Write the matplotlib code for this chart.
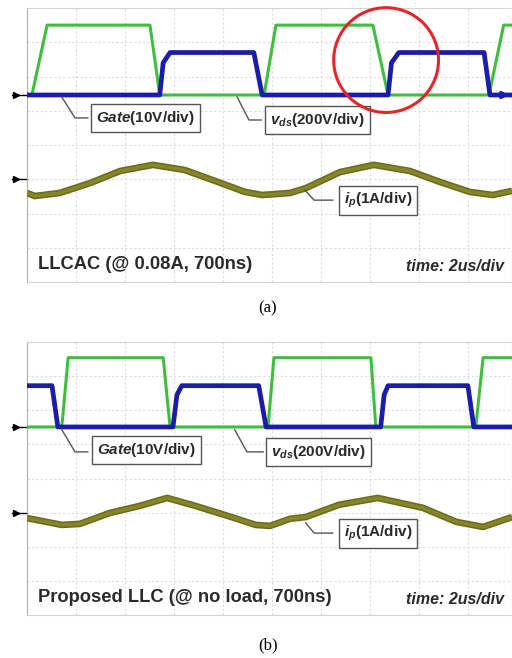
import numpy as np
import matplotlib
matplotlib.use("Agg")
import matplotlib.pyplot as plt
from matplotlib.patches import Ellipse

plt.rcParams['font.family'] = ['Liberation Sans', 'DejaVu Sans']
plt.rcParams['mathtext.fontset'] = 'custom'
plt.rcParams['mathtext.it'] = 'Liberation Sans:italic:bold'
plt.rcParams['mathtext.rm'] = 'Liberation Sans:bold'
plt.rcParams['mathtext.bf'] = 'Liberation Sans:bold'

# scope traces, x in divisions (2us/div), y in divisions from bottom of screen
# (a) LLCAC
gate_a_t = [0.0, 0.10, 0.41, 2.51, 2.71, 4.84, 5.08, 7.06, 7.37, 9.43, 9.73, 9.9]
gate_a_v = [5.46, 5.46, 7.50, 7.50, 5.46, 5.46, 7.50, 7.50, 5.46, 5.46, 7.50, 7.50]
vds_a_t = [0.0, 2.71, 2.78, 2.92, 4.63, 4.80, 7.37, 7.44, 7.59, 9.33, 9.45, 9.9]
vds_a_v = [5.46, 5.46, 6.40, 6.70, 6.70, 5.46, 5.46, 6.40, 6.70, 6.70, 5.46, 5.46]
ip_a_t = [0.0, 0.16, 0.67, 1.29, 1.90, 2.57, 3.22, 3.84, 4.45, 4.80, 5.37, 5.69,
          6.39, 7.08, 7.82, 8.43, 9.04, 9.51, 9.90]
ip_a_v = [2.60, 2.51, 2.60, 2.89, 3.24, 3.42, 3.27, 2.95, 2.63, 2.54, 2.60, 2.74,
          3.21, 3.42, 3.24, 2.92, 2.63, 2.54, 2.66]

# (b) proposed LLC
gate_b_t = [0.0, 0.71, 0.84, 2.78, 2.92, 4.92, 5.04, 7.02, 7.12, 9.16, 9.31, 9.9]
gate_b_v = [5.51, 5.51, 7.54, 7.54, 5.51, 5.51, 7.54, 7.54, 5.51, 5.51, 7.54, 7.54]
vds_b_t = [0.0, 0.51, 0.63, 2.98, 3.06, 3.16, 4.73, 4.88, 7.22, 7.29, 7.37, 9.00, 9.12, 9.9]
vds_b_v = [6.72, 6.72, 5.51, 5.51, 6.45, 6.72, 6.72, 5.51, 5.51, 6.45, 6.72, 6.72, 5.51, 5.51]
ip_b_t = [0.0, 0.71, 1.08, 1.69, 2.31, 2.86, 3.43, 4.04, 4.67, 4.96, 5.37, 5.69,
          6.37, 7.16, 8.08, 8.76, 9.31, 9.90]
ip_b_v = [2.84, 2.64, 2.67, 2.99, 3.20, 3.43, 3.20, 2.93, 2.64, 2.61, 2.82, 2.87,
          3.23, 3.43, 3.14, 2.73, 2.58, 2.87]

captions = ["LLCAC (@ 0.08A, 700ns)", "Proposed LLC (@ no load, 700ns)"]

W, H = 512, 658
fig = plt.figure(figsize=(W / 100, H / 100), dpi=100)
fig.patch.set_facecolor('white')

green = '#3dbf3d'
blue = '#1c1caa'
olive = '#85852a'
grey = '#555555'
txt = '#2a2a2a'


def screen(top, bottom, gate_t, gate_v, vds_t, vds_v, ip_t, ip_v, ground, caption,
           leaders):
    ax = fig.add_axes([27 / W, 1 - bottom / H, 485 / W, (bottom - top) / H])
    ax.set_xlim(0, 9.9)
    ax.set_ylim(0, 8)
    for x in range(1, 10):
        ax.axvline(x, color='#dcdcdc', lw=0.8, ls=(0, (2, 2)), zorder=0)
    for y in range(1, 8):
        ax.axhline(y, color='#dcdcdc', lw=0.8, ls=(0, (2, 2)), zorder=0)
    for s in ax.spines.values():
        s.set_color('#d4d4d4')
        s.set_linewidth(0.8)
    ax.spines['left'].set_color('#b0b0b0')
    ax.set_xticks([])
    ax.set_yticks([])

    ax.plot(gate_t, gate_v, color=green, lw=2.2, zorder=3, solid_joinstyle='round')
    ax.plot(vds_t, vds_v, color=blue, lw=3.4, zorder=4, solid_joinstyle='round')
    ax.plot(ip_t, ip_v, color='#6b6b1c', lw=4.8, zorder=3, solid_capstyle='butt')
    ax.plot(ip_t, ip_v, color=olive, lw=2.6, zorder=3)

    # ground markers at left edge
    for gy in (ground, 3.0):
        ax.plot([-0.22], [gy], marker='>', color='black', ms=5, clip_on=False)
        ax.plot([-0.3, 0], [gy, gy], color='black', lw=1, clip_on=False)

    labels = [r"$\mathit{Gate}$(10V/div)", r"$\mathit{v}_{\mathit{ds}}$(200V/div)",
              r"$\mathit{i}_{\mathit{p}}$(1A/div)"]
    for lab, (pts, cx, cy) in zip(labels, leaders):
        xs, ys = zip(*pts)
        ax.plot(xs, ys, color=grey, lw=1.0, zorder=5)
        ax.text(cx, cy, lab, ha='center', va='center', fontsize=11, color=txt,
                fontweight='bold', zorder=6,
                bbox=dict(boxstyle='square,pad=0.32', fc='white', ec=grey, lw=1.0))

    ax.text(0.22, 0.5, caption, ha='left', va='center', fontsize=13.2,
            fontweight='bold', color=txt)
    ax.text(9.73, 0.45, "time: 2us/div", ha='right', va='center', fontsize=11.5,
            fontweight='bold', style='italic', color=txt)
    return ax


ax_a = screen(8, 282, gate_a_t, gate_a_v, vds_a_t, vds_a_v, ip_a_t, ip_a_v, 5.46,
              captions[0],
              [([(0.71, 5.40), (0.98, 4.79), (1.24, 4.79)], 2.42, 4.79),
               ([(4.29, 5.40), (4.53, 4.73), (4.78, 4.73)], 5.93, 4.73),
               ([(5.67, 2.69), (5.86, 2.39), (6.24, 2.39)], 7.16, 2.39)])
ax_a.annotate('', xy=(9.9, 5.46), xytext=(9.55, 5.46),
              arrowprops=dict(arrowstyle='-|>', color=blue, lw=2), annotation_clip=False)
ax_a.add_patch(Ellipse((7.33, 6.48), 2.14, 3.06, fill=False, ec='#e8242a', lw=2.2,
                       zorder=7, clip_on=False))

ax_b = screen(342, 615, gate_b_t, gate_b_v, vds_b_t, vds_b_v, ip_b_t, ip_b_v, 5.51,
              captions[1],
              [([(0.71, 5.43), (0.98, 4.78), (1.24, 4.78)], 2.44, 4.84),
               ([(4.24, 5.43), (4.49, 4.78), (4.82, 4.78)], 5.95, 4.78),
               ([(5.69, 2.70), (5.86, 2.40), (6.24, 2.40)], 7.16, 2.40)])

fig.text(268 / W, 1 - 308 / H, '(a)', ha='center', va='center', fontsize=12,
         family='Liberation Serif')
fig.text(268 / W, 1 - 645 / H, '(b)', ha='center', va='center', fontsize=12,
         family='Liberation Serif')

fig.savefig('out.png', dpi=100)
